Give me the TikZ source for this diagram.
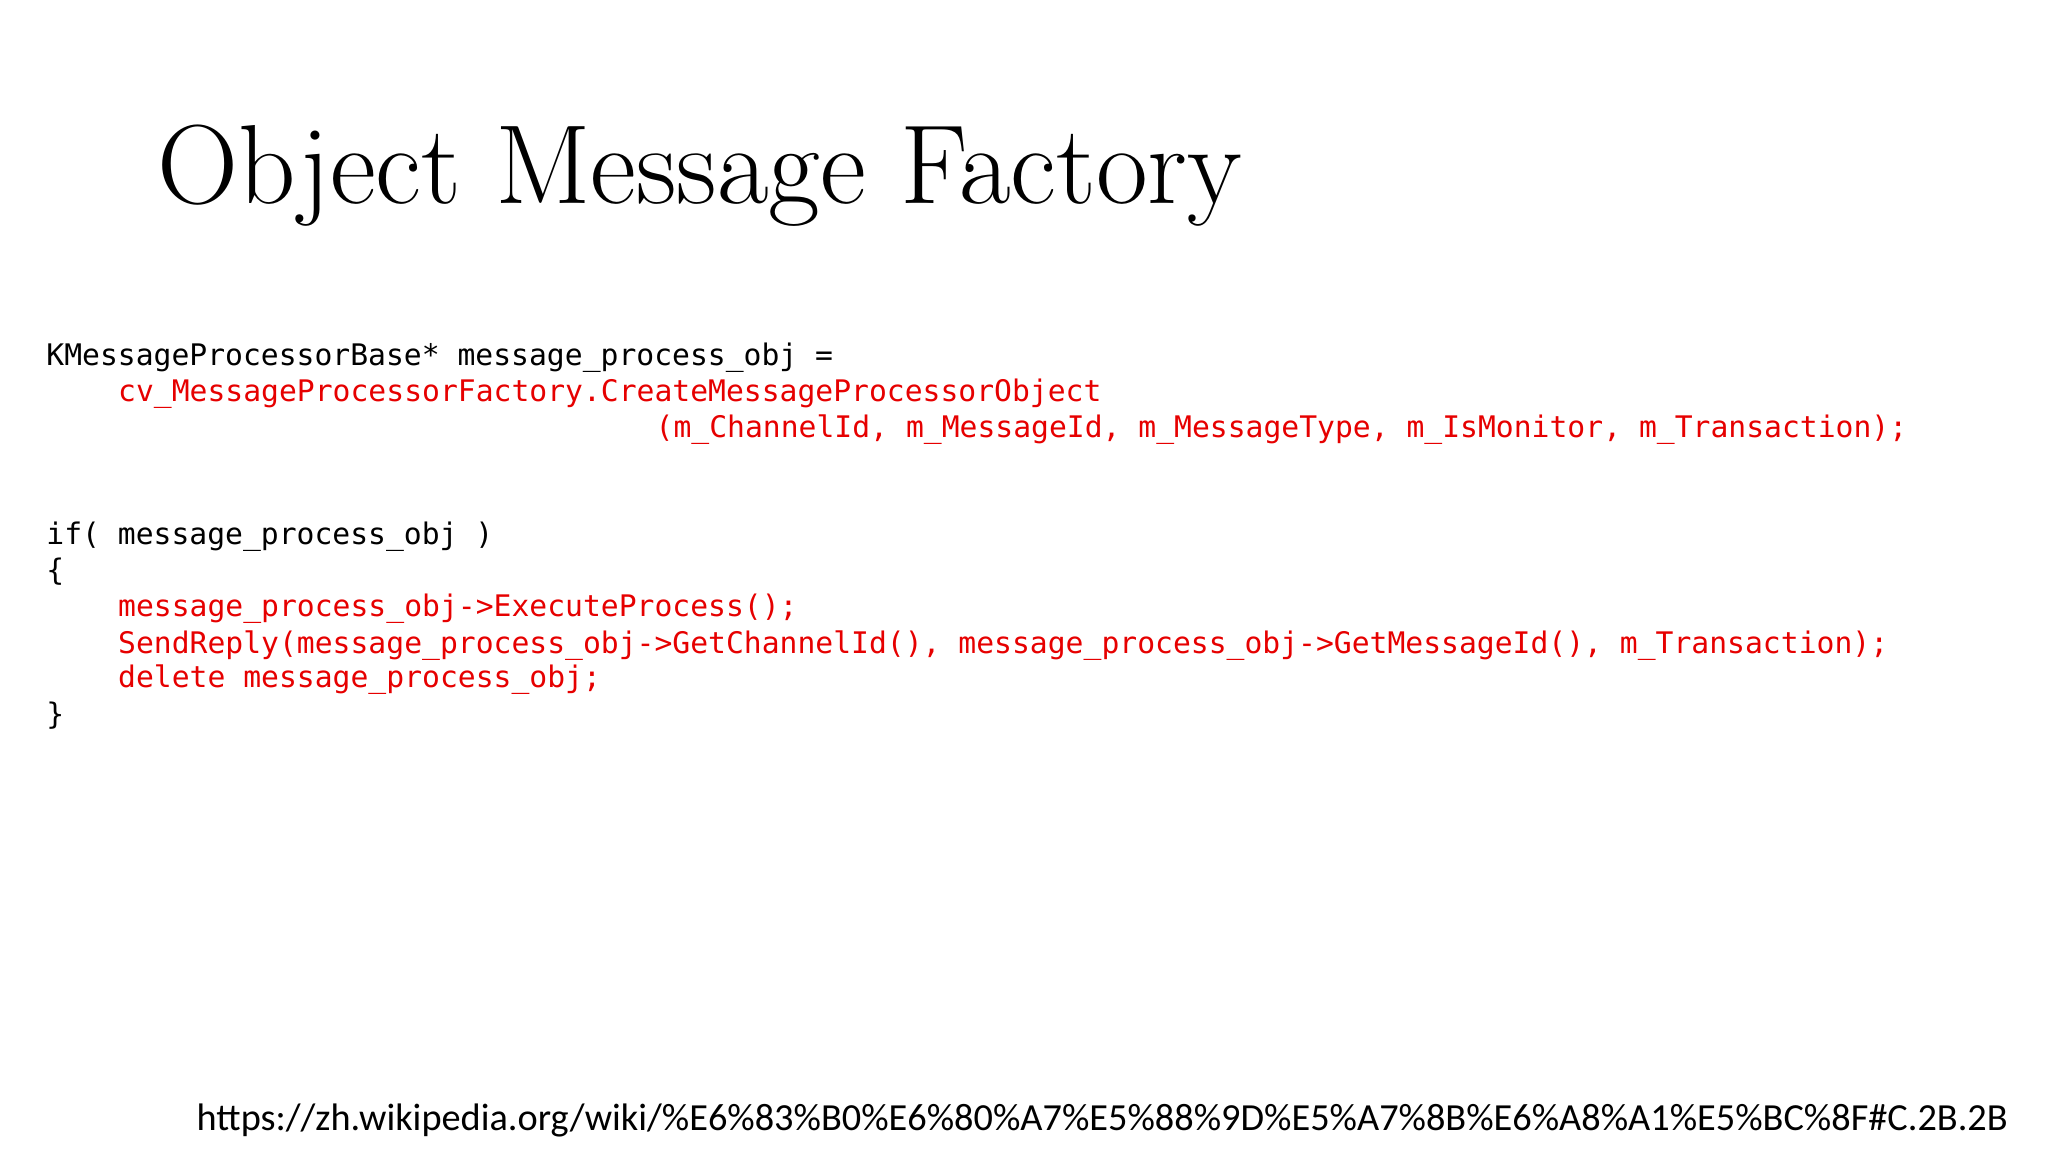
\documentclass[tikz,border=0pt]{standalone}
\usepackage{fontspec}
\newfontfamily\codefont{DejaVu Sans Mono}
\newfontfamily\urlfont{Carlito}
\definecolor{codered}{RGB}{230,0,0}
\begin{document}
\begin{tikzpicture}
\tikzset{
 code/.style={anchor=base west,inner sep=0pt,font=\codefont\fontsize{8.45}{10}\selectfont},
 red/.style={code,text=codered}
}
\useasboundingbox (0,0) rectangle (20.48,-11.52);
\node[anchor=base west,inner sep=0pt,font=\fontsize{32}{38}\selectfont] (title) at (1.57,-2.04) {Object Message Factory};
\node[code] (l1) at (0.457,-3.66) {KMessageProcessorBase* message\_process\_obj =};
\node[red] (l2) at (1.175,-4.02) {cv\_MessageProcessorFactory.CreateMessageProcessorObject};
\node[red] (l3) at (6.55,-4.38) {(m\_ChannelId, m\_MessageId, m\_MessageType, m\_IsMonitor, m\_Transaction);};
\node[code] (l4) at (0.457,-5.45) {if( message\_process\_obj )};
\node[code] (l5) at (0.457,-5.81) {\{};
\node[red] (l6) at (1.175,-6.17) {message\_process\_obj->ExecuteProcess();};
\node[red] (l7) at (1.175,-6.53) {SendReply(message\_process\_obj->GetChannelId(), message\_process\_obj->GetMessageId(), m\_Transaction);};
\node[red] (l8) at (1.175,-6.88) {delete message\_process\_obj;};
\node[code] (l9) at (0.457,-7.24) {\}};
\node[anchor=base west,inner sep=0pt,font=\urlfont\fontsize{10.9}{13}\selectfont] (url) at (1.96,-11.30) {https://zh.wikipedia.org/wiki/\%E6\%83\%B0\%E6\%80\%A7\%E5\%88\%9D\%E5\%A7\%8B\%E6\%A8\%A1\%E5\%BC\%8F\#C.2B.2B};
\end{tikzpicture}
\end{document}
